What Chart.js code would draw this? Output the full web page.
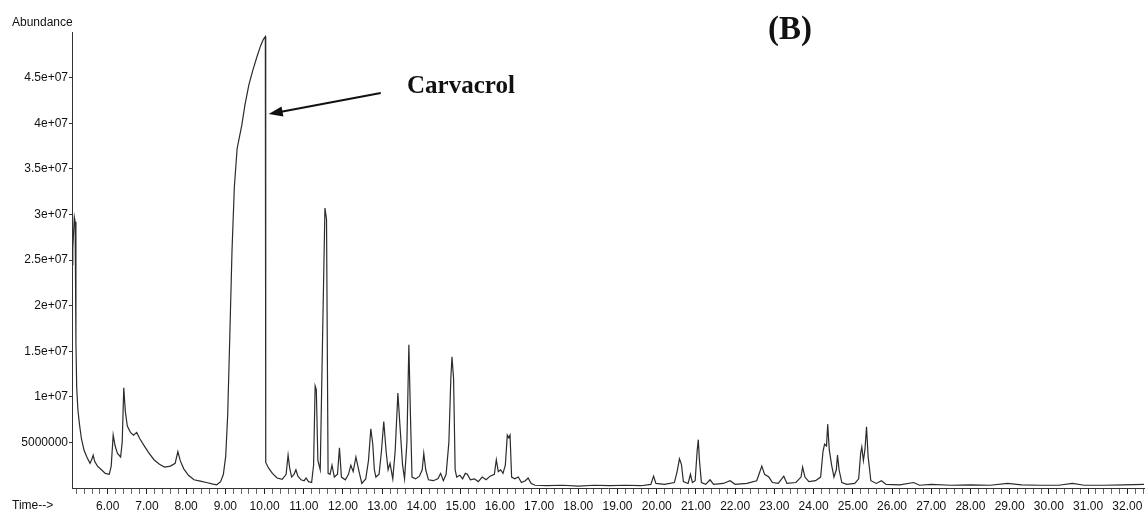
<!DOCTYPE html>
<html>
<head>
<meta charset="utf-8">
<title>Chromatogram (B)</title>
<script src="https://cdn.jsdelivr.net/npm/chart.js@4/dist/chart.umd.min.js"></script>
<style>
  body { margin: 0; background: #fff; }
  #wrap { position: relative; width: 1148px; height: 520px; }
  .lbl { position: absolute; font-family: 'Liberation Sans', Arial, sans-serif; font-size: 12px; color: #111; white-space: nowrap; }
  .ser { position: absolute; font-family: 'Liberation Serif', 'Times New Roman', serif; font-weight: bold; color: #111; white-space: nowrap; }
</style>
</head>
<body>
<div id="wrap">
  <canvas id="chart" width="1148" height="520"></canvas>
  <div class="lbl" style="left:12px;top:15px">Abundance</div>
  <div class="lbl" style="left:12px;top:498px">Time--&gt;</div>
  <div class="ser" style="left:407px;top:71px;font-size:25px">Carvacrol</div>
  <div class="ser" style="left:768px;top:10px;font-size:33px">(B)</div>
</div>
<script>
// retention time (min) and abundance
const times = [
  5.09, 5.11, 5.13, 5.15, 5.17, 5.19, 5.21, 5.24, 5.28, 5.33, 5.40, 5.48, 5.55, 5.60, 5.63, 5.67, 5.74, 5.84, 5.94,
  6.04, 6.09, 6.14, 6.19, 6.25, 6.33, 6.37, 6.41, 6.45, 6.50, 6.58, 6.66, 6.74, 6.82, 6.92,
  7.04, 7.18, 7.32, 7.45, 7.60, 7.72, 7.79, 7.85, 7.94,
  8.06, 8.20, 8.36, 8.52, 8.66, 8.78, 8.88, 8.95,
  9.01, 9.06, 9.11, 9.17, 9.23, 9.30, 9.36, 9.42, 9.50, 9.60, 9.70, 9.80, 9.90, 9.97,
  10.02, 10.03, 10.10, 10.20, 10.32, 10.45, 10.55, 10.60, 10.64, 10.69, 10.75, 10.80, 10.85, 10.93,
  11.01, 11.06, 11.12, 11.20, 11.25, 11.29, 11.32, 11.36, 11.42, 11.48, 11.54, 11.58, 11.62, 11.67, 11.72, 11.78, 11.86, 11.91, 11.96,
  12.06, 12.14, 12.20, 12.26, 12.33, 12.40, 12.48, 12.58, 12.65, 12.71, 12.76, 12.80, 12.84, 12.92, 12.98,
  13.04, 13.10, 13.15, 13.20, 13.27, 13.33, 13.40, 13.45, 13.52, 13.57, 13.63, 13.68, 13.72, 13.76, 13.85, 13.95,
  14.02, 14.06, 14.11, 14.18, 14.30, 14.42, 14.49, 14.56, 14.63, 14.70, 14.75, 14.78, 14.82, 14.86, 14.90, 14.98,
  15.05, 15.12, 15.17, 15.25, 15.35, 15.45, 15.55, 15.65, 15.75, 15.86, 15.91, 15.96,
  16.02, 16.08, 16.14, 16.19, 16.23, 16.26, 16.30, 16.38, 16.47, 16.55, 16.65, 16.72, 16.80, 16.90,
  17.20, 17.60, 18.00, 18.40, 18.80, 19.20, 19.60, 19.85, 19.92, 19.98,
  20.20, 20.45, 20.52, 20.58, 20.63, 20.68, 20.80, 20.86, 20.91, 20.98,
  21.03, 21.06, 21.09, 21.14, 21.25, 21.36, 21.45, 21.70, 21.87,
  22.00, 22.30, 22.55, 22.68, 22.75, 22.86, 22.95,
  23.10, 23.24, 23.32, 23.55, 23.68, 23.72, 23.78, 23.88,
  24.05, 24.18, 24.24, 24.28, 24.33, 24.36, 24.40, 24.46, 24.52, 24.58, 24.61, 24.65, 24.72, 24.85,
  25.05, 25.15, 25.20, 25.23, 25.27, 25.31, 25.35, 25.39, 25.46, 25.60, 25.73, 25.85,
  26.20, 26.55, 26.70, 27.00, 27.50, 28.00, 28.50, 28.95, 29.30, 29.80, 30.25, 30.60, 30.90, 31.40, 31.90, 32.43
];
const abundance = [
  2.45e7, 2.62e7, 2.80e7, 2.97e7, 2.92e7, 1.60e7, 1.10e7, 8.6e6, 7.0e6, 5.4e6, 4.1e6, 3.3e6, 2.7e6, 3.2e6, 3.6e6, 2.9e6, 2.4e6, 2.0e6, 1.6e6,
  1.5e6, 2.4e6, 5.8e6, 4.6e6, 3.8e6, 3.4e6, 5.0e6, 1.1e7, 8.4e6, 6.8e6, 6.1e6, 5.8e6, 6.1e6, 5.4e6, 4.7e6,
  3.9e6, 3.1e6, 2.6e6, 2.3e6, 2.4e6, 2.7e6, 4.0e6, 3.0e6, 2.1e6,
  1.4e6, 0.9e6, 0.75e6, 0.6e6, 0.45e6, 0.35e6, 0.7e6, 1.5e6,
  3.5e6, 8.0e6, 1.6e7, 2.6e7, 3.3e7, 3.72e7, 3.85e7, 3.98e7, 4.2e7, 4.42e7, 4.58e7, 4.72e7, 4.85e7, 4.92e7,
  4.95e7, 2.8e6, 2.2e6, 1.6e6, 1.1e6, 0.95e6, 1.5e6, 3.6e6, 2.2e6, 1.2e6, 1.5e6, 2.0e6, 1.3e6, 0.9e6,
  0.8e6, 1.1e6, 0.7e6, 0.6e6, 2.5e6, 1.12e7, 1.08e7, 3.0e6, 2.0e6, 1.66e7, 3.07e7, 2.95e7, 1.6e6, 1.5e6, 2.5e6, 1.2e6, 1.5e6, 4.4e6, 1.2e6,
  0.9e6, 1.5e6, 2.5e6, 1.8e6, 3.4e6, 2.0e6, 0.5e6, 1.0e6, 3.0e6, 6.5e6, 4.8e6, 2.0e6, 1.2e6, 1.5e6, 4.0e6,
  7.3e6, 4.0e6, 2.0e6, 2.7e6, 1.0e6, 4.0e6, 1.04e7, 7.0e6, 2.5e6, 1.0e6, 5.0e6, 1.57e7, 8.0e6, 1.2e6, 1.0e6, 1.3e6,
  2.0e6, 3.8e6, 2.0e6, 0.9e6, 0.8e6, 1.0e6, 1.6e6, 0.8e6, 1.5e6, 5.0e6, 1.2e7, 1.44e7, 1.2e7, 2.0e6, 1.2e6, 1.4e6,
  1.0e6, 1.6e6, 1.5e6, 0.9e6, 1.0e6, 0.7e6, 1.2e6, 0.9e6, 1.3e6, 1.5e6, 3.1e6, 1.8e6,
  2.0e6, 1.6e6, 2.5e6, 5.8e6, 5.5e6, 5.8e6, 1.2e6, 1.0e6, 1.2e6, 0.6e6, 0.8e6, 1.1e6, 0.5e6, 0.3e6,
  0.25e6, 0.3e6, 0.2e6, 0.3e6, 0.25e6, 0.3e6, 0.25e6, 0.4e6, 1.3e6, 0.5e6,
  0.4e6, 0.6e6, 1.8e6, 3.2e6, 2.6e6, 0.7e6, 0.5e6, 1.5e6, 0.6e6, 0.8e6,
  4.0e6, 5.3e6, 3.0e6, 0.6e6, 0.4e6, 0.9e6, 0.4e6, 0.5e6, 0.8e6,
  0.4e6, 0.5e6, 0.8e6, 2.4e6, 1.5e6, 1.2e6, 0.6e6,
  0.5e6, 1.3e6, 0.5e6, 0.6e6, 1.2e6, 2.3e6, 1.2e6, 0.7e6,
  0.8e6, 1.2e6, 4.0e6, 4.8e6, 4.6e6, 7.0e6, 4.2e6, 2.5e6, 1.2e6, 2.0e6, 3.6e6, 2.0e6, 0.6e6, 0.4e6,
  0.5e6, 1.0e6, 3.8e6, 4.5e6, 3.0e6, 4.2e6, 6.7e6, 3.5e6, 0.8e6, 0.5e6, 0.8e6, 0.4e6,
  0.35e6, 0.6e6, 0.3e6, 0.4e6, 0.3e6, 0.35e6, 0.3e6, 0.5e6, 0.35e6, 0.3e6, 0.3e6, 0.5e6, 0.3e6, 0.3e6, 0.35e6, 0.4e6
];

// axis ticks
const yTickValues = [5e6, 1e7, 1.5e7, 2e7, 2.5e7, 3e7, 3.5e7, 4e7, 4.5e7];
const yTickLabels = ['5000000', '1e+07', '1.5e+07', '2e+07', '2.5e+07', '3e+07', '3.5e+07', '4e+07', '4.5e+07'];
const xTickLabels = ['6.00', '7.00', '8.00', '9.00', '10.00', '11.00', '12.00', '13.00', '14.00', '15.00',
  '16.00', '17.00', '18.00', '19.00', '20.00', '21.00', '22.00', '23.00', '24.00', '25.00',
  '26.00', '27.00', '28.00', '29.00', '30.00', '31.00', '32.00'];

// peak label anchor
const carvacrolTime = 10.03;
const arrowTipAbundance = 4.1e7;

const tickFont = { family: "'Liberation Sans', Arial, sans-serif", size: 12 };

// arrow pointing at the carvacrol peak
const arrowPlugin = {
  id: 'arrow',
  afterDatasetsDraw(chart) {
    const { ctx, scales: { x, y } } = chart;
    const tipX = x.getPixelForValue(carvacrolTime) + 3;
    const tipY = y.getPixelForValue(arrowTipAbundance);
    const tailX = tipX + 112, tailY = tipY - 21;
    const ang = Math.atan2(tipY - tailY, tipX - tailX);
    ctx.save();
    ctx.strokeStyle = '#111';
    ctx.fillStyle = '#111';
    ctx.lineWidth = 2;
    ctx.beginPath();
    ctx.moveTo(tailX, tailY);
    ctx.lineTo(tipX - 10 * Math.cos(ang), tipY - 10 * Math.sin(ang));
    ctx.stroke();
    ctx.beginPath();
    ctx.moveTo(tipX, tipY);
    ctx.lineTo(tipX - 14 * Math.cos(ang) + 5 * Math.sin(ang), tipY - 14 * Math.sin(ang) - 5 * Math.cos(ang));
    ctx.lineTo(tipX - 14 * Math.cos(ang) - 5 * Math.sin(ang), tipY - 14 * Math.sin(ang) + 5 * Math.cos(ang));
    ctx.closePath();
    ctx.fill();
    ctx.restore();
  }
};

const ctx = document.getElementById('chart').getContext('2d');
new Chart(ctx, {
  type: 'line',
  data: {
    datasets: [{
      data: times.map((t, i) => ({ x: t, y: abundance[i] })),
      borderColor: '#2b2b2b',
      borderWidth: 1.2,
      pointRadius: 0,
      tension: 0,
      fill: false
    }]
  },
  options: {
    responsive: false,
    animation: false,
    layout: { padding: { top: 32, right: 0, bottom: 0, left: 0 } },
    plugins: { legend: { display: false }, tooltip: { enabled: false } },
    scales: {
      x: {
        type: 'linear',
        min: 5.09,
        max: 32.43,
        afterBuildTicks: function(scale) {
          const ticks = [];
          for (let k = 26; k <= 162; k++) ticks.push({ value: k / 5 });
          scale.ticks = ticks;
        },
        afterFit: function(scale) { scale.height = 32; },
        ticks: {
          autoSkip: false,
          maxRotation: 0,
          padding: 5,
          color: '#111',
          font: tickFont,
          callback: function(value) {
            const idx = xTickLabels.findIndex(l => Math.abs(parseFloat(l) - value) < 1e-6);
            return idx >= 0 ? xTickLabels[idx] : '';
          }
        },
        grid: {
          drawOnChartArea: false,
          drawTicks: true,
          tickLength: 6,
          tickColor: c => (c.tick && Math.abs(c.tick.value - Math.round(c.tick.value)) < 1e-6) ? '#222' : '#666'
        },
        border: { display: true, color: '#333', width: 1, dash: [3, 2] }
      },
      y: {
        min: 0,
        max: 5.0e7,
        afterBuildTicks: function(scale) {
          scale.ticks = yTickValues.map(v => ({ value: v }));
        },
        afterFit: function(scale) { scale.width = 72; },
        ticks: {
          padding: 1,
          color: '#111',
          font: tickFont,
          callback: function(value) {
            const idx = yTickValues.indexOf(value);
            return idx >= 0 ? yTickLabels[idx] : '';
          }
        },
        grid: { drawOnChartArea: false, drawTicks: true, tickLength: 3, tickColor: '#333' },
        border: { display: true, color: '#333', width: 1, dash: [1, 2] }
      }
    }
  },
  plugins: [arrowPlugin]
});
</script>
</body>
</html>
